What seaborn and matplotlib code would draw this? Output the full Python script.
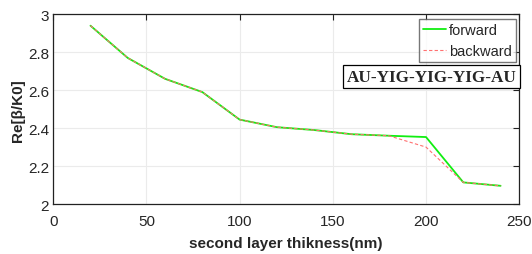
import numpy as np
import pandas as pd
import matplotlib
matplotlib.use("Agg")
import matplotlib.pyplot as plt
import seaborn as sns

# - Data
thickness = [20, 40, 60, 80, 100, 120, 140, 160, 180, 200, 220, 240]
forward = [2.94, 2.77, 2.66, 2.59, 2.445, 2.405, 2.39, 2.368, 2.36, 2.353, 2.114, 2.096]
backward = [2.94, 2.77, 2.66, 2.59, 2.445, 2.405, 2.39, 2.368, 2.36, 2.30, 2.114, 2.096]

xticks = [0, 50, 100, 150, 200, 250]
yticks = [2, 2.2, 2.4, 2.6, 2.8, 3]

df = pd.DataFrame({
    'thickness': thickness * 2,
    'value': forward + backward,
    'direction': ['forward'] * len(thickness) + ['backward'] * len(thickness),
})

# - Plot settings
sns.set_style("whitegrid")
plt.rcParams['font.family'] = ['Liberation Sans', 'DejaVu Sans']

fig, ax = plt.subplots(figsize=(5.32, 2.55), dpi=100)
fig.subplots_adjust(left=0.1, right=0.976, top=0.94, bottom=0.196)

sns.lineplot(data=df, x='thickness', y='value', hue='direction', style='direction',
             palette={'forward': '#11ee11', 'backward': '#ff7070'},
             dashes={'forward': '', 'backward': (3, 2)},
             size='direction', sizes={'forward': 1.3, 'backward': 0.8}, ax=ax)

ax.set_xlim(0, 250)
ax.set_ylim(2, 3)
ax.set_xticks(xticks)
ax.set_yticks(yticks)
ax.set_yticklabels([f'{v:g}' for v in yticks])
ax.tick_params(direction='in', length=4, width=0.8, labelsize=11, color='#222222',
               top=True, right=True, labelcolor='#262626')
ax.tick_params(axis='x', pad=7)
ax.tick_params(axis='y', pad=3)
ax.grid(True, color='#ebebeb', linewidth=0.8)
for s in ax.spines.values():
    s.set_color('#222222')
    s.set_linewidth(0.9)

ax.set_xlabel('second layer thikness(nm)', fontsize=11, fontweight='bold', color='#262626', labelpad=6)
ax.set_ylabel('Re[β/K0]', fontsize=11, fontweight='bold', color='#262626', labelpad=2)

leg = ax.legend(loc='upper right', fontsize=10.5, frameon=True, fancybox=False,
                handlelength=1.6, handletextpad=0.2, borderpad=0.3, labelspacing=0.45,
                bbox_to_anchor=(0.994, 0.975), borderaxespad=0.0)
leg.get_frame().set_edgecolor('#555555')
leg.get_frame().set_linewidth(1.0)
leg.set_title(None)

ax.text(0.9936, 0.671, 'AU-YIG-YIG-YIG-AU', transform=ax.transAxes, ha='right', va='center',
        fontsize=12.3, fontweight='bold', family='Liberation Serif',
        bbox=dict(boxstyle='square,pad=0.2', facecolor='white', edgecolor='black', linewidth=0.9))

fig.savefig('out.png', dpi=100)
